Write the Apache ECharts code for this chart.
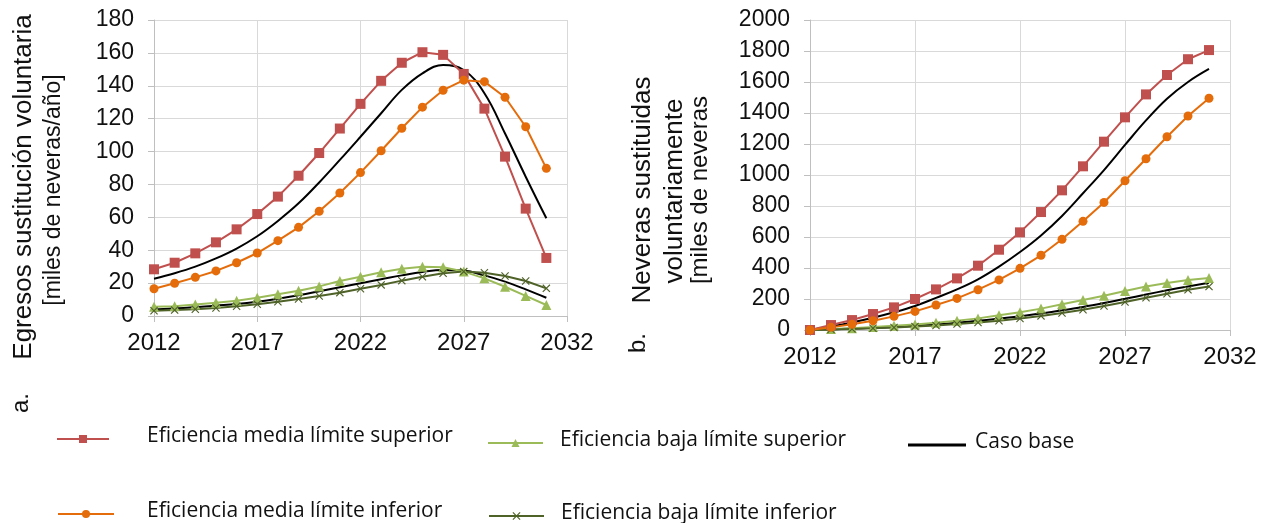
<!DOCTYPE html>
<html>
<head>
<meta charset="utf-8">
<script src="https://cdn.jsdelivr.net/npm/echarts@6/dist/echarts.min.js"></script>
<style>
html,body{margin:0;padding:0;background:#fff;}
#chart{width:1271px;height:523px;}
</style>
</head>
<body>
<div id="chart"></div>
<script>
// ---- Data ----
const years = [2012,2013,2014,2015,2016,2017,2018,2019,2020,2021,2022,2023,2024,2025,2026,2027,2028,2029,2030,2031];

// a. Egresos sustitución voluntaria [miles de neveras/año]
const mediaSupA = [28.4,32.4,38.1,44.8,52.7,62.0,72.6,85.3,99.1,114.0,129.0,143.0,154.0,160.4,158.8,147.2,126.1,96.9,65.3,35.3];
const mediaInfA = [16.6,19.9,23.5,27.4,32.4,38.3,45.8,53.9,63.7,74.8,87.2,100.5,114.2,127.0,137.3,143.4,142.5,133.0,115.1,89.8];
const baseMediaA = [22.7,26.0,30.0,35.0,41.0,48.5,57.8,68.5,81.2,94.9,109.0,123.3,137.5,147.6,152.7,149.6,135.5,111.0,84.7,59.4];
const bajaSupA = [5.7,6.0,7.0,8.0,9.3,11.1,13.2,15.4,18.0,21.3,23.9,26.6,28.8,30.0,29.6,27.0,22.9,17.8,12.2,6.7];
const bajaInfA = [3.2,3.6,4.1,4.9,5.9,7.1,8.7,10.3,12.2,14.2,16.6,18.9,21.5,23.9,26.0,27.0,26.3,24.3,21.3,16.8];
const baseBajaA = [4.0,4.7,5.3,6.3,7.3,8.7,10.5,12.6,15.0,17.5,19.9,22.3,24.7,26.8,28.0,27.6,24.7,20.9,16.2,11.1];

// b. Neveras sustituidas voluntariamente [miles de neveras]
const mediaSupB = [0,32,64,103,146,200,262,333,415,518,630,761,901,1056,1215,1372,1520,1645,1747,1806];
const mediaInfB = [0,17,37,60,88,120,161,204,260,323,398,482,585,701,823,963,1105,1247,1381,1495];
const baseMediaB = [0,23,49,79,114,155,207,262,327,409,503,610,736,882,1032,1194,1352,1492,1600,1684];
const bajaSupB = [0,6,12,19,27,36,47,60,75,95,114,138,166,194,221,252,280,303,323,335];
const bajaInfB = [0,3,7,11,16,22,29,38,48,60,74,91,110,131,155,181,208,234,259,280];
const baseBajaB = [0,4,9,14,20,28,36,47,59,74,89,107,127,149,174,201,229,256,281,305];

const xTicks = [2012,2017,2022,2027,2032];
const yTicksA = [0,20,40,60,80,100,120,140,160,180];
const yTicksB = [0,200,400,600,800,1000,1200,1400,1600,1800,2000];

const names = {
  ms: 'Eficiencia media límite superior',
  mi: 'Eficiencia media límite inferior',
  bs: 'Eficiencia baja límite superior',
  bi: 'Eficiencia baja límite inferior',
  cb: 'Caso base'
};

// ---- Styles ----
const C = { ms:'#C0504D', mi:'#E46C0A', bs:'#9BBB59', bi:'#4F6228', cb:'#000000' };
const XSYM = 'path://M0,1L1,0L5,4L9,0L10,1L6,5L10,9L9,10L5,6L1,10L0,9L4,5Z';
const AX = 'Liberation Sans, Arial, sans-serif';
const LG = 'Open Sans, Noto Sans, sans-serif';

function pairs(vals){ return years.map((y,i)=>[y, vals[i]]); }

function mk(name, vals, key, idx, opts){
  return Object.assign({
    name: name, type: 'line', xAxisIndex: idx, yAxisIndex: idx,
    data: pairs(vals),
    lineStyle: { color: C[key], width: 2 },
    itemStyle: { color: C[key] },
    emphasis: { disabled: true },
    animation: false
  }, opts);
}

function seriesFor(idx, d){
  return [
    mk(names.cb, d.baseMedia, 'cb', idx, { symbol:'none', smooth: 0.4, z: 1 }),
    mk(names.cb, d.baseBaja, 'cb', idx, { symbol:'none', smooth: 0.4, z: 1 }),
    mk(names.ms, d.mediaSup, 'ms', idx, { symbol:'rect', symbolSize: 10, z: 3 }),
    mk(names.mi, d.mediaInf, 'mi', idx, { symbol:'circle', symbolSize: 9, z: 3 }),
    mk(names.bs, d.bajaSup, 'bs', idx, { symbol:'triangle', symbolSize: 10, z: 2 }),
    mk(names.bi, d.bajaInf, 'bi', idx, { symbol: XSYM, symbolSize: 8, z: 2 })
  ];
}

function xAx(gi){
  return {
    type:'value', gridIndex: gi, min: 2012, max: 2032, interval: 5,
    axisLine:{ show:true, lineStyle:{ color:'#BFBFBF', width:1 } },
    axisTick:{ show:true, length:6, lineStyle:{ color:'#BFBFBF' } },
    splitLine:{ show:true, lineStyle:{ color:'#D9D9D9', width:1 } },
    axisLabel:{ fontFamily: AX, fontSize: 24, color:'#111', margin: 15, formatter: v => String(v) }
  };
}
function yAx(gi, max, interval){
  return {
    type:'value', gridIndex: gi, min: 0, max: max, interval: interval,
    axisLine:{ show:true, lineStyle:{ color:'#BFBFBF', width:1 } },
    axisTick:{ show:true, length:6, lineStyle:{ color:'#BFBFBF' } },
    splitLine:{ show:true, lineStyle:{ color:'#D9D9D9', width:1 } },
    axisLabel:{ fontFamily: AX, fontSize: 23, color:'#111', margin: 20, formatter: v => String(v) }
  };
}

function lg(item, left, top, width, height, gap){
  return {
    data:[item], left: left, top: top, padding: 0,
    itemWidth: width, itemHeight: height,
    selectedMode: false,
    formatter: n => '{g|}{t|' + n + '}',
    textStyle:{ fontFamily: LG, fontSize: 21, color:'#111', lineHeight: 24,
      rich:{ g:{ width: gap }, t:{ fontFamily: LG, fontSize: 21, color:'#111', padding:[0,0,5,0] } } }
  };
}

function vtext(txt, x, y, size){
  return { type:'text', x: x, y: y, rotation: Math.PI/2,
    style:{ text: txt, fontFamily: AX, fontSize: size, fill:'#111',
      textAlign:'center', textVerticalAlign:'middle', verticalAlign:'middle' } };
}

const chart = echarts.init(document.getElementById('chart'), null, { renderer:'canvas' });
chart.setOption({
  animation: false,
  backgroundColor: '#fff',
  grid: [
    { left: 154, top: 20, width: 413, height: 296 },
    { left: 810, top: 20, width: 420, height: 310 }
  ],
  xAxis: [ xAx(0), xAx(1) ],
  yAxis: [ yAx(0, 180, 20), yAx(1, 2000, 200) ],
  legend: [
    lg(names.ms, 56, 426, 52, 10, 33),
    lg(names.mi, 57, 501, 56, 10, 28),
    lg(names.bs, 487, 430, 55, 10, 12),
    lg(names.bi, 488, 503, 55, 10, 12),
    lg({ name: names.cb, icon: 'rect' }, 908, 432, 58, 3, 4)
  ],
  graphic: [
    vtext('Egresos sustitución voluntaria', 24, 187, 26),
    vtext('[miles de neveras/año]', 54, 190, 23),
    vtext('a.', 21, 403, 24),
    vtext('Neveras sustituidas', 643, 190, 26),
    vtext('voluntariamente', 675, 191, 26),
    vtext('[miles de neveras', 700, 190, 24),
    vtext('b.', 638, 343, 24)
  ],
  series: [].concat(
    seriesFor(0, { mediaSup: mediaSupA, mediaInf: mediaInfA, baseMedia: baseMediaA, bajaSup: bajaSupA, bajaInf: bajaInfA, baseBaja: baseBajaA }),
    seriesFor(1, { mediaSup: mediaSupB, mediaInf: mediaInfB, baseMedia: baseMediaB, bajaSup: bajaSupB, bajaInf: bajaInfB, baseBaja: baseBajaB })
  )
});
</script>
</body>
</html>
